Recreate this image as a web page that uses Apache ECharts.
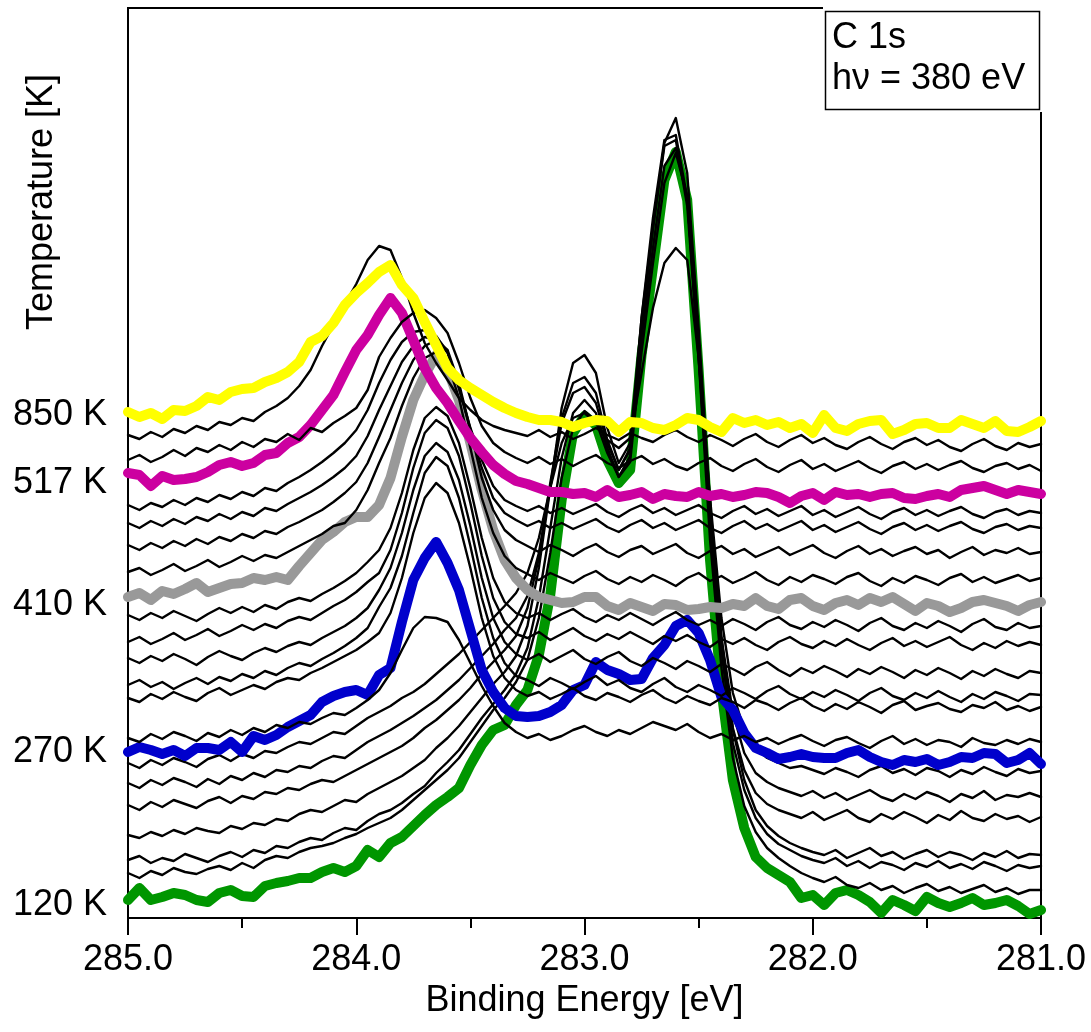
<!DOCTYPE html>
<html>
<head>
<meta charset="utf-8">
<script src="https://cdn.jsdelivr.net/npm/echarts@6/dist/echarts.min.js"></script>
<style>
  html, body { margin: 0; padding: 0; background: #fff; }
  #chart { width: 1091px; height: 1032px; }
</style>
</head>
<body>
<div id="chart"></div>
<script>
// Binding-energy grid (eV), 0.05 eV steps from 285.0 down to 281.0
const energies = [
  285.00, 284.95, 284.90, 284.85, 284.80, 284.75, 284.70, 284.65, 284.60, 284.55,
  284.50, 284.45, 284.40, 284.35, 284.30, 284.25, 284.20, 284.15, 284.10, 284.05,
  284.00, 283.95, 283.90, 283.85, 283.80, 283.75, 283.70, 283.65, 283.60, 283.55,
  283.50, 283.45, 283.40, 283.35, 283.30, 283.25, 283.20, 283.15, 283.10, 283.05,
  283.00, 282.95, 282.90, 282.85, 282.80, 282.75, 282.70, 282.65, 282.60, 282.55,
  282.50, 282.45, 282.40, 282.35, 282.30, 282.25, 282.20, 282.15, 282.10, 282.05,
  282.00, 281.95, 281.90, 281.85, 281.80, 281.75, 281.70, 281.65, 281.60, 281.55,
  281.50, 281.45, 281.40, 281.35, 281.30, 281.25, 281.20, 281.15, 281.10, 281.05,
  281.00
];

// C 1s spectra (offset intensity, arb. units), lowest temperature first
const t120K = [
  18, 30, 18, 21, 25, 23, 18, 16, 25, 28, 22,
  21, 32, 35, 37, 40, 40, 46, 50, 46, 52,
  68, 61, 75, 81, 92, 103, 113, 121, 130, 153,
  173, 188, 193, 213, 228, 263, 323, 418, 485, 502,
  493, 458, 435, 448, 563, 651, 738, 766, 718, 548,
  358, 228, 138, 90, 61, 50, 43, 36, 20, 23,
  13, 25, 28, 23, 16, 5, 18, 13, 7, 21,
  15, 11, 15, 20, 13, 15, 18, 12, 4, 8
];
const scan01 = [
  45, 40, 47, 43, 50, 46, 44, 49, 52, 48, 55,
  50, 58, 62, 60, 66, 70, 72, 75, 80, 84,
  90, 95, 100, 108, 118, 128, 138, 148, 160, 176,
  192, 208, 220, 236, 258, 300, 365, 440, 490, 507,
  497, 465, 441, 456, 566, 655, 735, 765, 722, 560,
  378, 250, 160, 112, 86, 70, 60, 52, 45, 40,
  36, 41, 33, 30, 35, 28, 32, 25, 30, 34,
  27, 31, 25, 29, 33, 26, 30, 24, 28, 28
];
const scan02 = [
  58, 62, 55, 60, 57, 64, 60, 56, 62, 66, 61,
  68, 65, 72, 70, 76, 80, 78, 85, 90, 88,
  97, 104, 108, 115, 124, 132, 145, 156, 168, 184,
  200, 214, 228, 244, 270, 320, 390, 460, 505, 518,
  505, 470, 441, 462, 580, 670, 752, 770, 720, 570,
  400, 268, 175, 128, 100, 84, 74, 68, 62, 58,
  55, 60, 52, 57, 50, 56, 53, 48, 55, 51,
  57, 50, 54, 49, 56, 52, 47, 53, 50, 52
];
const scan03 = [
  83, 80, 86, 82, 88, 84, 90, 87, 85, 92, 89,
  95, 93, 99, 97, 104, 108, 106, 112, 118, 116,
  124, 130, 136, 142, 150, 158, 170, 180, 192, 206,
  220, 234, 246, 262, 292, 350, 430, 510, 555, 563,
  545, 490, 455, 475, 600, 690, 775, 800, 745, 590,
  415, 280, 188, 138, 108, 92, 82, 75, 70, 66,
  63, 68, 60, 65, 70, 62, 66, 59, 64, 68,
  61, 66, 63, 58, 65, 61, 67, 60, 64, 63
];
const scan04 = [
  113, 108, 116, 111, 118, 114, 110, 117, 121, 115, 122,
  119, 126, 124, 130, 128, 134, 138, 136, 142, 148,
  154, 160, 166, 172, 180, 190, 198, 208, 218, 230,
  244, 256, 268, 282, 310, 360, 435, 500, 535, 541,
  525, 478, 448, 470, 600, 700, 778, 783, 720, 565,
  400, 275, 190, 148, 125, 114, 108, 104, 100, 106,
  98, 103, 108, 100, 96, 104, 99, 106, 101, 95,
  103, 98, 107, 100, 97, 104, 99, 102, 96, 101
];
const scan05 = [
  135, 130, 138, 133, 140, 136, 131, 139, 134, 142, 138,
  145, 141, 148, 146, 152, 150, 157, 162, 160, 168,
  176, 182, 188, 195, 202, 210, 218, 228, 238, 250,
  262, 274, 288, 300, 322, 365, 430, 495, 525, 531,
  515, 475, 448, 468, 590, 690, 772, 778, 712, 560,
  398, 280, 205, 165, 145, 136, 130, 126, 122, 127,
  120, 125, 118, 123, 128, 121, 117, 124, 119, 126,
  122, 116, 124, 120, 127, 118, 123, 121, 125, 121
];
const scan06 = [
  155, 150, 158, 153, 160, 156, 151, 159, 163, 157, 164,
  160, 167, 165, 171, 176, 174, 180, 186, 184, 192,
  200, 206, 212, 220, 226, 234, 244, 254, 264, 276,
  288, 300, 312, 325, 345, 380, 430, 475, 500, 505,
  495, 478, 470, 480, 545, 610, 655, 670, 658, 560,
  420, 300, 225, 188, 170, 160, 155, 150, 152, 148,
  144, 150, 146, 141, 148, 152, 145, 149, 143, 150,
  147, 141, 148, 144, 151, 146, 142, 149, 145, 147
];
const t270K = [
  166, 171, 168, 164, 168, 162, 170, 170, 168, 176, 166,
  182, 178, 183, 191, 197, 203, 216, 222, 226, 228,
  223, 243, 250, 296, 338, 360, 376, 355, 328, 288,
  248, 226, 210, 202, 201, 202, 206, 213, 228, 233,
  256, 248, 244, 238, 239, 260, 273, 292, 298, 285,
  258, 221, 208, 185, 170, 165, 159, 161, 164, 161,
  160, 160, 165, 168, 161, 156, 153, 158, 156, 159,
  153, 156, 161, 160, 165, 164, 155, 158, 165, 154
];
const scan08 = [
  180, 176, 184, 179, 186, 182, 177, 185, 181, 188, 183,
  190, 186, 193, 190, 196, 194, 200, 205, 203, 210,
  218, 228, 245, 268, 290, 301, 300, 296, 278, 255,
  232, 212, 195, 186, 180, 184, 178, 182, 188, 192,
  186, 182, 188, 184, 190, 196, 192, 188, 194, 186,
  180, 184, 178, 182, 176, 180, 174, 179, 183, 177,
  172, 178, 181, 175, 170, 177, 182, 174, 179, 173,
  178, 176, 171, 180, 175, 173, 178, 174, 179, 176
];
const scan09 = [
  220, 216, 224, 219, 226, 221, 217, 225, 230, 223, 228,
  233, 229, 236, 240, 238, 245, 250, 256, 262, 268,
  276, 285, 305, 340, 385, 420, 435, 425, 395, 350,
  300, 262, 240, 228, 222, 226, 219, 224, 230, 222,
  218, 225, 221, 216, 223, 228, 220, 215, 222, 217,
  213, 220, 216, 210, 218, 214, 208, 215, 220, 212,
  207, 214, 209, 216, 211, 205, 213, 217, 208, 212,
  215, 209, 206, 213, 210, 216, 208, 212, 207, 211
];
const scan10 = [
  233, 238, 231, 236, 229, 235, 240, 234, 241, 237, 244,
  240, 247, 243, 250, 255, 252, 259, 265, 272, 280,
  290, 311, 330, 362, 405, 445, 461, 452, 420, 372,
  320, 280, 255, 242, 238, 232, 240, 235, 229, 236,
  242, 233, 238, 230, 226, 234, 240, 231, 226, 233,
  228, 222, 230, 225, 219, 227, 232, 224, 219, 226,
  221, 228, 223, 217, 225, 230, 222, 218, 225, 220,
  227, 221, 216, 224, 219, 226, 222, 217, 224, 223
];
const scan11 = [
  260, 255, 262, 257, 264, 259, 253, 261, 267, 262, 258,
  265, 270, 266, 272, 276, 273, 280, 286, 292, 300,
  310, 328, 350, 385, 428, 462, 475, 466, 438, 392,
  340, 300, 276, 264, 258, 264, 256, 262, 268, 259,
  254, 261, 266, 257, 252, 260, 255, 249, 257, 252,
  246, 254, 249, 243, 251, 256, 248, 242, 250, 245,
  252, 247, 241, 249, 244, 251, 246, 240, 248, 243,
  250, 245, 239, 247, 242, 249, 244, 240, 247, 245
];
const scan12 = [
  276, 281, 274, 279, 285, 278, 283, 289, 282, 287, 293,
  288, 294, 290, 297, 301, 298, 305, 312, 318, 326,
  336, 345, 368, 405, 450, 485, 498, 490, 462, 415,
  362, 320, 296, 284, 280, 286, 278, 284, 290, 282,
  277, 284, 279, 286, 280, 274, 282, 277, 283, 276,
  271, 279, 274, 280, 273, 268, 276, 281, 274, 270,
  277, 272, 279, 273, 268, 275, 280, 272, 277, 271,
  276, 281, 273, 268, 275, 270, 277, 272, 276, 273
];
const scan13 = [
  303, 298, 305, 300, 307, 302, 297, 304, 310, 305, 311,
  306, 313, 309, 316, 320, 317, 324, 330, 337, 345,
  356, 368, 390, 425, 468, 500, 511, 502, 475, 430,
  380, 340, 316, 305, 300, 305, 298, 304, 309, 301,
  296, 303, 298, 305, 299, 293, 300, 306, 298, 293,
  298, 292, 299, 294, 288, 296, 301, 293, 289, 296,
  291, 298, 293, 287, 295, 300, 292, 288, 295, 290,
  297, 292, 286, 294, 299, 291, 288, 295, 290, 292
];
const t410K = [
  321, 325, 318, 327, 324, 329, 335, 326, 330, 334, 335,
  340, 338, 341, 338, 352, 365, 378, 386, 396, 401,
  401, 413, 440, 481, 518, 543, 563, 548, 518, 475,
  428, 388, 358, 340, 328, 321, 318, 315, 316, 321,
  321, 312, 308, 315, 311, 307, 314, 313, 308, 309,
  311, 310, 314, 312, 320, 312, 309, 318, 320, 312,
  308, 315, 318, 313, 320, 316, 321, 314, 307, 315,
  312, 306, 310, 316, 318, 315, 312, 307, 313, 316
];
const scan15 = [
  346, 350, 343, 348, 354, 347, 352, 358, 351, 356, 362,
  357, 363, 360, 366, 372, 378, 384, 392, 395, 408,
  428, 455, 480, 512, 540, 560, 566, 555, 520, 470,
  420, 385, 362, 350, 344, 338, 345, 340, 335, 342,
  347, 339, 334, 341, 336, 343, 338, 332, 340, 345,
  337, 342, 335, 340, 346, 338, 333, 341, 336, 343,
  339, 334, 341, 345, 337, 332, 340, 335, 342, 338,
  333, 340, 344, 336, 341, 335, 339, 343, 337, 340
];
const scan16 = [
  373, 368, 375, 370, 377, 372, 379, 374, 381, 377, 384,
  380, 387, 384, 391, 396, 402, 408, 416, 425, 436,
  455, 481, 508, 535, 558, 572, 578, 568, 535, 488,
  440, 408, 388, 378, 372, 366, 373, 368, 362, 369,
  374, 366, 361, 368, 372, 364, 369, 374, 365, 360,
  367, 372, 364, 369, 361, 366, 371, 363, 368, 373,
  365, 360, 367, 372, 364, 369, 362, 367, 371, 364,
  368, 360, 366, 371, 363, 368, 365, 370, 364, 366
];
const scan17 = [
  395, 390, 397, 392, 399, 394, 401, 397, 404, 399, 406,
  402, 410, 407, 414, 420, 426, 433, 441, 450, 462,
  482, 508, 532, 556, 572, 581, 578, 565, 530, 488,
  450, 420, 405, 398, 392, 397, 390, 395, 389, 394,
  399, 391, 386, 393, 398, 390, 395, 388, 393, 398,
  390, 385, 392, 397, 389, 394, 387, 392, 397, 388,
  393, 386, 391, 396, 389, 384, 391, 395, 388, 393,
  387, 392, 396, 389, 385, 391, 394, 388, 392, 390
];
const scan18 = [
  413, 408, 415, 411, 418, 413, 420, 416, 423, 419, 426,
  422, 430, 427, 435, 441, 448, 456, 465, 475, 488,
  508, 535, 558, 576, 586, 588, 582, 566, 530, 490,
  458, 432, 418, 412, 407, 412, 405, 410, 404, 409,
  414, 406, 401, 408, 413, 405, 410, 403, 408, 413,
  405, 400, 407, 412, 404, 409, 402, 407, 412, 403,
  408, 401, 406, 411, 404, 399, 406, 410, 403, 408,
  402, 407, 411, 404, 400, 406, 409, 403, 407, 405
];
const t517K = [
  445, 443, 432, 442, 438, 439, 441, 446, 453, 456, 452,
  455, 463, 465, 475, 481, 493, 508, 523, 546, 568,
  583, 603, 620, 605, 578, 550, 530, 515, 497, 480,
  466, 453, 444, 437, 434, 430, 426, 426, 424, 425,
  421, 428, 421, 423, 426, 419, 424, 422, 421, 426,
  422, 424, 421, 423, 426, 425, 421, 415, 422, 425,
  418, 426, 423, 424, 421, 424, 425, 420, 419, 422,
  424, 421, 428, 430, 432, 428, 424, 428, 426, 424
];
const scan20 = [
  458, 463, 456, 461, 468, 462, 470, 466, 473, 468, 476,
  471, 479, 476, 484, 478, 490, 486, 495, 502, 510,
  528, 561, 580, 596, 605, 608, 600, 585, 555, 520,
  492, 475, 466, 460, 455, 461, 454, 459, 452, 458,
  463, 455, 450, 457, 462, 454, 459, 452, 448, 455,
  460, 452, 447, 454, 459, 451, 446, 453, 458, 449,
  454, 447, 452, 457, 450, 445, 452, 456, 449, 454,
  448, 453, 457, 450, 446, 452, 455, 449, 453, 447
];
const scan21 = [
  483, 479, 486, 481, 489, 485, 492, 488, 496, 493, 500,
  497, 506, 512, 520, 532, 548, 572, 593, 614, 634,
  658, 672, 668, 640, 605, 575, 555, 538, 520, 508,
  498, 492, 488, 485, 482, 488, 481, 486, 479, 484,
  490, 483, 478, 485, 480, 476, 483, 488, 481, 476,
  483, 478, 472, 479, 484, 476, 471, 478, 483, 475,
  480, 473, 469, 476, 481, 474, 469, 476, 480, 473,
  478, 471, 467, 474, 479, 472, 468, 475, 471, 474
];
const t850K = [
  506, 501, 505, 499, 508, 507, 512, 521, 518, 526, 529,
  530, 536, 540, 546, 556, 576, 582, 595, 613, 625,
  635, 646, 653, 633, 620, 596, 573, 550, 538, 530,
  523, 516, 510, 505, 501, 498, 498, 496, 491, 495,
  498, 497, 486, 496, 495, 490, 488, 493, 500, 498,
  491, 486, 500, 495, 498, 493, 496, 490, 494, 485,
  503, 490, 487, 494, 497, 498, 484, 488, 494, 495,
  490, 490, 498, 494, 490, 497, 487, 486, 491, 497
];

// Temperature tick labels on the left axis, and the intensities they sit at
const tempTickLabels = ['120 K', '270 K', '410 K', '517 K', '850 K'];
const tempTickValues = [13, 166, 313, 435, 503];

// Energy axis tick label list
const energyTicks = [285, 284, 283, 282, 281];

const FONT = "'Liberation Sans', Arial, Helvetica, sans-serif";

const spectra = [
  { data: t120K, color: '#009600', width: 10 },
  { data: scan01 }, { data: scan02 }, { data: scan03 }, { data: scan04 },
  { data: scan05 }, { data: scan06 },
  { data: t270K, color: '#0000cc', width: 10 },
  { data: scan08 }, { data: scan09 }, { data: scan10 }, { data: scan11 },
  { data: scan12 }, { data: scan13 },
  { data: t410K, color: '#999999', width: 10 },
  { data: scan15 }, { data: scan16 }, { data: scan17 }, { data: scan18 },
  { data: t517K, color: '#cc00a0', width: 10 },
  { data: scan20 }, { data: scan21 },
  { data: t850K, color: '#ffff00', width: 10 }
];

const series = spectra.map((s, k) => ({
  type: 'line',
  data: energies.map((e, i) => [e, s.data[i]]),
  showSymbol: false,
  symbol: 'none',
  silent: true,
  z: 2 + k,
  lineStyle: {
    color: s.color || '#000000',
    width: s.width || 2.4,
    join: 'round',
    cap: 'round'
  }
}));

const chart = echarts.init(document.getElementById('chart'), null, { renderer: 'canvas' });
chart.setOption({
  animation: false,
  backgroundColor: '#ffffff',
  grid: {
    left: 128, right: 50, top: 8, bottom: 114,
    show: true, borderColor: '#000000', borderWidth: 2, backgroundColor: 'transparent'
  },
  xAxis: {
    type: 'value',
    min: 281, max: 285, interval: 1, inverse: true,
    name: 'Binding Energy [eV]',
    nameLocation: 'middle',
    nameGap: 62,
    nameTextStyle: { fontFamily: FONT, fontSize: 36, color: '#000' },
    axisLine: { show: true, onZero: false, lineStyle: { color: '#000', width: 2 } },
    axisTick: { show: true, inside: false, length: 17, lineStyle: { color: '#000', width: 2 } },
    minorTick: { show: true, splitNumber: 2, length: 10, lineStyle: { color: '#000', width: 2 } },
    splitLine: { show: false },
    axisLabel: {
      margin: 24,
      fontFamily: FONT, fontSize: 36, color: '#000',
      customValues: energyTicks,
      formatter: v => Number(v).toFixed(1)
    }
  },
  yAxis: {
    type: 'value',
    min: 0, max: 910,
    axisLine: { show: false },
    axisTick: { show: false },
    splitLine: { show: false },
    axisLabel: {
      margin: 21,
      fontFamily: FONT, fontSize: 36, color: '#000',
      customValues: tempTickValues,
      formatter: v => {
        const idx = tempTickValues.indexOf(Math.round(v));
        return idx >= 0 ? tempTickLabels[idx] : '';
      }
    }
  },
  series: series,
  graphic: [
    {
      type: 'text', x: 42, y: 202, rotation: Math.PI / 2, z: 100,
      style: {
        text: 'Temperature [K]', fontFamily: FONT, fontSize: 36, fill: '#000',
        textAlign: 'center', textVerticalAlign: 'middle'
      }
    },
    {
      type: 'rect', z: 100, silent: true,
      shape: { x: 823, y: 0, width: 240, height: 112 },
      style: { fill: '#ffffff', stroke: null }
    },
    {
      type: 'rect', z: 101, silent: true,
      shape: { x: 825.5, y: 11.5, width: 214, height: 98 },
      style: { fill: '#ffffff', stroke: '#000000', lineWidth: 1.5 }
    },
    {
      type: 'text', x: 832, y: 38, z: 102,
      style: { text: 'C 1s', fontFamily: FONT, fontSize: 36, fill: '#000', textVerticalAlign: 'middle' }
    },
    {
      type: 'text', x: 832, y: 79, z: 102,
      style: { text: 'h\u03bd = 380 eV', fontFamily: FONT, fontSize: 36, fill: '#000', textVerticalAlign: 'middle' }
    }
  ]
});
</script>
</body>
</html>
